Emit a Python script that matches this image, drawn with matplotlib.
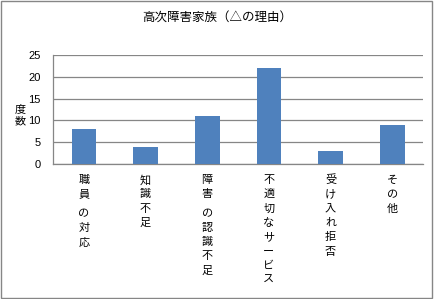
import numpy as np
import matplotlib.pyplot as plt
from matplotlib.patches import Rectangle
from matplotlib.transforms import offset_copy

plt.rcParams['font.family'] = ['Noto Sans CJK JP', 'DejaVu Sans']

categories = ['職員 の対応', '知識不足', '障害 の認識不足', '不適切なサービス', '受け入れ拒否', 'その他']
counts = [8, 4, 11, 22, 3, 9]
yticks = [0, 5, 10, 15, 20, 25]

fig = plt.figure(figsize=(4.34, 2.99), dpi=100)
ax = fig.add_axes([53 / 434, 1 - 164 / 299, 370 / 434, 109 / 299])

x = np.arange(len(categories))
ax.bar(x, counts, width=0.4, color='#4f81bd', zorder=3)
ax.set_xlim(-0.5, len(categories) - 0.5)
ax.set_ylim(0, 25)
ax.set_yticks(yticks)
ax.set_yticklabels([str(v) for v in yticks], fontsize=8, family='Liberation Sans')
ax.yaxis.grid(True, color='#868686', linewidth=0.9, zorder=0)
ax.tick_params(axis='y', length=0, pad=9)
ax.set_xticks([])
for s in ['top', 'right']:
    ax.spines[s].set_visible(False)
for s in ['left', 'bottom']:
    ax.spines[s].set_color('#868686')
    ax.spines[s].set_linewidth(0.9)

# vertical tick labels, one char per line (space = small gap)
step = 14.3 * 72 / 100  # points
for i, lab in enumerate(categories):
    off = 16 * 72 / 100
    for c in lab:
        if c == ' ':
            off += 5 * 72 / 100
            continue
        tr = offset_copy(ax.get_xaxis_transform(), fig=fig, x=0, y=-off, units='points')
        ax.text(i, 0, c, ha='center', va='center', fontsize=8, transform=tr)
        off += step

fig.text(20 / 434, 1 - 115 / 299, '度\n数', ha='center', va='center', fontsize=8, linespacing=1.3)
fig.text(0.5, 1 - 17 / 299, '高次障害家族（△の理由）', ha='center', va='center', fontsize=9)

fig.patches.append(Rectangle((0.002, 0.003), 0.994, 0.992, transform=fig.transFigure,
                             fill=False, edgecolor='#868686', linewidth=1))

fig.savefig('out.png', dpi=100)
